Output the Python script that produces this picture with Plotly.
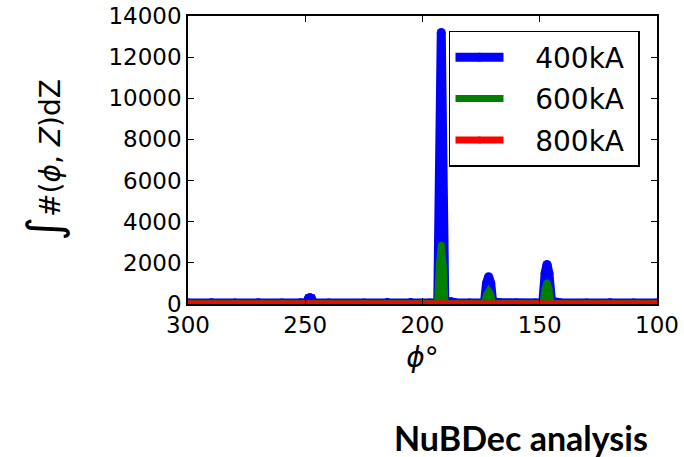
import plotly.graph_objects as go

# 400 kA
phi_400 = [300, 290, 280, 270, 260, 252, 249.5, 248.7, 248.0, 247.3, 246.6, 240, 225, 215, 205, 197,
           193.5, 192, 190.5, 188, 186, 180, 173.6, 172.7, 171.8, 170.9, 170.1, 167, 160, 152,
           148.7, 147.7, 146.9, 146.1, 145.0, 143.5, 141, 130, 120, 110, 100]
val_400 = [50, 60, 45, 60, 50, 55, 50, 250, 320, 250, 50, 50, 50, 70, 70, 50,
           50, 13200, 130, 110, 60, 50, 50, 1000, 1330, 1000, 110, 60, 50, 50,
           50, 1500, 1920, 1500, 150, 100, 50, 50, 60, 50, 50]

# 600 kA
phi_600 = [300, 260, 248, 230, 200, 193.6, 192.8, 192, 191.2, 190.4, 180, 173.6, 172.7, 171.8, 170.9, 170.1,
           160, 148.6, 147.7, 146.9, 146.1, 145.3, 130, 100]
val_600 = [20, 20, 40, 20, 20, 20, 1900, 2850, 1900, 30, 20, 20, 450, 620, 450, 30,
           20, 20, 750, 1020, 750, 30, 20, 20]

# 800 kA
phi_800 = [300, 250, 200, 192, 150, 100]
val_800 = [5, 8, 5, 10, 8, 5]

series = [
    ("\u00a0\u00a0\u00a0400kA\u00a0", phi_400, val_400, "#0000ff", 9),
    ("\u00a0\u00a0\u00a0600kA\u00a0", phi_600, val_600, "#008000", 7),
    ("\u00a0\u00a0\u00a0800kA\u00a0", phi_800, val_800, "#ff0000", 7),
]

x_ticks = [300, 250, 200, 150, 100]
y_ticks = [0, 2000, 4000, 6000, 8000, 10000, 12000, 14000]
y_tick_text = ["0", "2000", "4000", "6000", "8000", "10000", "12000", "14000"]

fig = go.Figure()
for i, (name, xs, ys, col, w) in enumerate(series):
    fig.add_trace(go.Scatter(x=xs, y=ys, mode="lines+markers", name=name, legendgroup=str(i),
                             line=dict(color=col, width=w),
                             marker=dict(color=col, size=w, line=dict(width=0))))

font = "DejaVu Sans"
fig.update_layout(
    width=684, height=457,
    margin=dict(l=188, r=27, t=16, b=153),
    paper_bgcolor="white", plot_bgcolor="white",
    font=dict(family=font, color="black", size=23),
    showlegend=True,
    legend=dict(x=0.5565, y=0.948, xanchor="left", yanchor="top",
                bordercolor="black", borderwidth=1.5, bgcolor="white",
                font=dict(family=font, size=28, color="black"),
                tracegroupgap=2, traceorder="grouped", itemwidth=48),
    xaxis=dict(range=[300, 100], tickvals=x_ticks, ticks="inside", ticklen=6, tickwidth=1.3,
               tickcolor="black", showline=True, linecolor="black", linewidth=1.5, mirror="allticks",
               showgrid=False, zeroline=False, tickfont=dict(family=font, size=23), automargin=False,
               title=dict(text="<i>ϕ</i>°", font=dict(family=font, size=28), standoff=10)),
    yaxis=dict(range=[0, 14000], tickvals=y_ticks, ticktext=y_tick_text, ticks="inside", ticklen=6,
               tickwidth=1.3, tickcolor="black", showline=True, linecolor="black", linewidth=1.5,
               mirror="allticks", showgrid=False, zeroline=False, tickfont=dict(family=font, size=23),
               automargin=False,
               title=dict(text="<span style=\"font-size:46px\">∫</span>#(<i>ϕ</i>, <i>Z</i>)dZ",
                          font=dict(family=font, size=28), standoff=40)),
    annotations=[dict(text="<b>NuBDec analysis</b>", xref="paper", yref="paper",
                      x=0.985, y=-0.463, xanchor="right", yanchor="middle", showarrow=False,
                      font=dict(family="Lato", size=34, color="black"))],
)

fig.write_html("out.html")
